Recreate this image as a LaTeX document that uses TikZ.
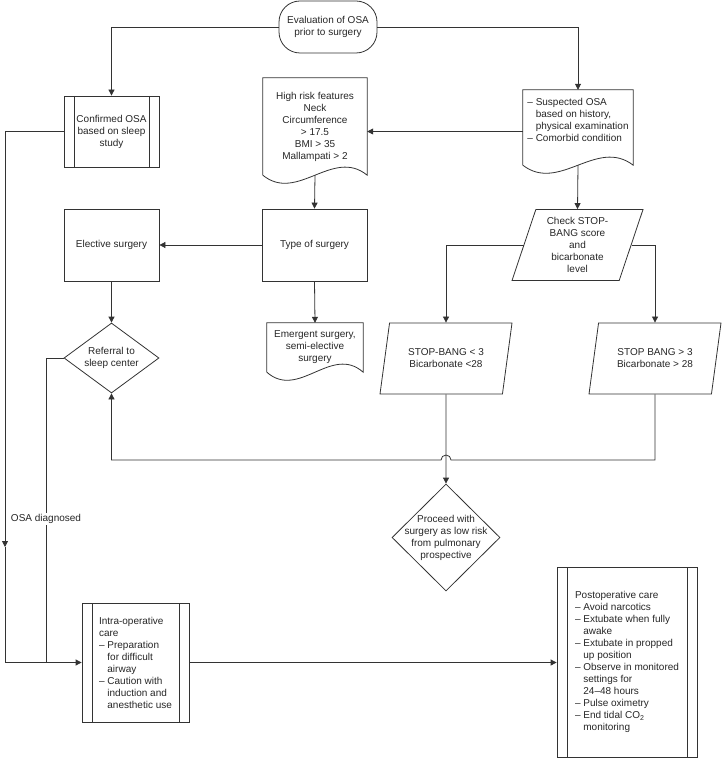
\documentclass[tikz,border=0pt]{standalone}
\usepackage{fontspec}
\setmainfont{Liberation Sans}
\usetikzlibrary{shapes.geometric, arrows.meta, positioning, calc}

% document shape: straight top and sides, wavy bottom
\newcommand{\docoutline}[2]{%
  \draw[line] (#1.south west) -- (#1.north west) -- (#1.north east) -- (#1.south east)
    .. controls ($(#1.south east)!0.33!(#1.south west)+(0,-#2)$)
       and ($(#1.south west)!0.33!(#1.south east)+(0,#2)$) .. (#1.south west);}
\newcommand{\hang}{\phantom{--~}}

\begin{document}
\begin{tikzpicture}[x=1pt, y=-1pt,
  every node/.style={font=\fontsize{10}{12}\selectfont, text=black!85},
  line/.style={draw=black!80, line width=0.8pt},
  arr/.style={line, -{Triangle[length=6pt, width=6pt]}},
  box/.style={line, rectangle, minimum width=95pt, minimum height=72pt, align=center, inner sep=2pt},
  procbox/.style={box, path picture={
      \draw[line] ([xshift=10pt]path picture bounding box.north west) -- ([xshift=10pt]path picture bounding box.south west)
                  ([xshift=-10pt]path picture bounding box.north east) -- ([xshift=-10pt]path picture bounding box.south east);}},
  docbox/.style={rectangle, align=center, inner sep=2pt},
  para/.style={line, trapezium, trapezium stretches body, align=center, inner sep=0pt, minimum height=71pt},
  dmnd/.style={line, diamond, inner sep=0pt},
  startbox/.style={line, rectangle, rounded corners=21pt, minimum width=98pt, minimum height=52pt, align=center}]

  \useasboundingbox (0,0) rectangle (722,759);

  % Start
  \node[startbox] (start) at (328,27) {Evaluation of OSA\\prior to surgery};

  % Left column
  \node[procbox, minimum height=71pt] (confirmed) at (111.5,131.5) {Confirmed OSA\\based on sleep\\study};
  \node[box] (elective) at (111.5,245) {Elective surgery};
  \node[dmnd, minimum width=95pt, minimum height=70pt,
        label={[align=center]center:{Referral to\\sleep center}}] (referral) at (111.5,358) {};

  % Middle column
  \node[docbox, minimum width=104pt, minimum height=97pt] (highrisk) at (315,126.5)
    {High risk features\\Neck\\Circumference\\> 17.5\\BMI > 35\\Mallampati > 2};
  \docoutline{highrisk}{28}
  \node[box, minimum width=105pt] (type) at (314.5,245) {Type of surgery};
  \node[docbox, minimum width=96pt, minimum height=49pt] (emergent) at (315,347.5)
    {Emergent surgery,\\semi-elective\\surgery};
  \docoutline{emergent}{28}

  % Right column
  \node[docbox, align=left, minimum width=110pt, minimum height=75pt] (suspected) at (578,127.5)
    {--~Suspected OSA\\\hang based on history,\\\hang physical examination\\--~Comorbid condition\\[4pt]};
  \docoutline{suspected}{28}
  \node[para, minimum width=131pt, trapezium left angle=66.7, trapezium right angle=113.3] (check) at (577.5,245)
    {Check STOP-\\BANG score\\and\\bicarbonate\\level};
  \node[para, minimum width=132pt, trapezium left angle=63.4, trapezium right angle=116.6] (stopL) at (446,358.5)
    {STOP-BANG < 3\\Bicarbonate <28};
  \node[para, minimum width=132pt, trapezium left angle=63.4, trapezium right angle=116.6] (stopR) at (655,358.5)
    {STOP BANG > 3\\Bicarbonate > 28};
  \node[dmnd, minimum width=108pt, minimum height=107pt,
        label={[align=center]center:{Proceed with\\surgery as low risk\\from pulmonary\\prospective}}] (proceed) at (446,537.5) {};

  % Bottom row
  \node[procbox, align=left, minimum width=107pt, minimum height=119pt] (intra) at (135.5,662.5)
    {Intra-operative\\care\\--~Preparation\\\hang for difficult\\\hang airway\\--~Caution with\\\hang induction and\\\hang anesthetic use};
  \node[procbox, align=left, minimum width=140pt, minimum height=190pt] (post) at (627,662)
    {Postoperative care\\--~Avoid narcotics\\--~Extubate when fully\\\hang awake\\--~Extubate in propped\\\hang up position\\--~Observe in monitored\\\hang settings for\\\hang 24--48 hours\\--~Pulse oximetry\\--~End tidal CO\textsubscript{2}\\\hang monitoring};

  % Connectors
  \draw[arr] (start.west) -| (confirmed.north);
  \draw[arr] (start.east) -| (suspected.north);
  \draw[arr] ([yshift=-4pt]suspected.west) -- ([yshift=-4pt]suspected.west -| highrisk.east);
  \draw[arr] (highrisk.south) -- (type.north);
  \draw[arr] (type.west) -- (elective.east);
  \draw[arr] (type.south) -- (emergent.north);
  \draw[arr] (suspected.south) -- (check.north);
  \draw[arr] (check.west) -| (stopL.north);
  \draw[arr] (check.east) -| (stopR.north);
  \draw[arr] (elective.south) -- (referral.north);
  \draw[arr] (stopL.south) -- (proceed.north);

  % loop back to referral, hopping over the line to proceed
  \coordinate (hop) at (stopL.south |- 0,460);
  \draw[arr] (stopR.south) |- ([xshift=5pt]hop) arc[start angle=0, end angle=180, radius=5pt] -| (referral.south);

  % left side lines into intra-operative care
  \coordinate (down) at (5,547);
  \coordinate (merge) at (46,0);
  \draw[arr] (confirmed.west) -| (down);
  \draw[arr] (down) |- (intra.west);
  \draw[line] (referral.west) -| (merge |- intra.west);
  \node[fill=white, inner sep=1pt] (diag) at (46,519) {OSA diagnosed};

  \draw[arr] (intra.east) -- (intra.east -| post.west);
\end{tikzpicture}
\end{document}
